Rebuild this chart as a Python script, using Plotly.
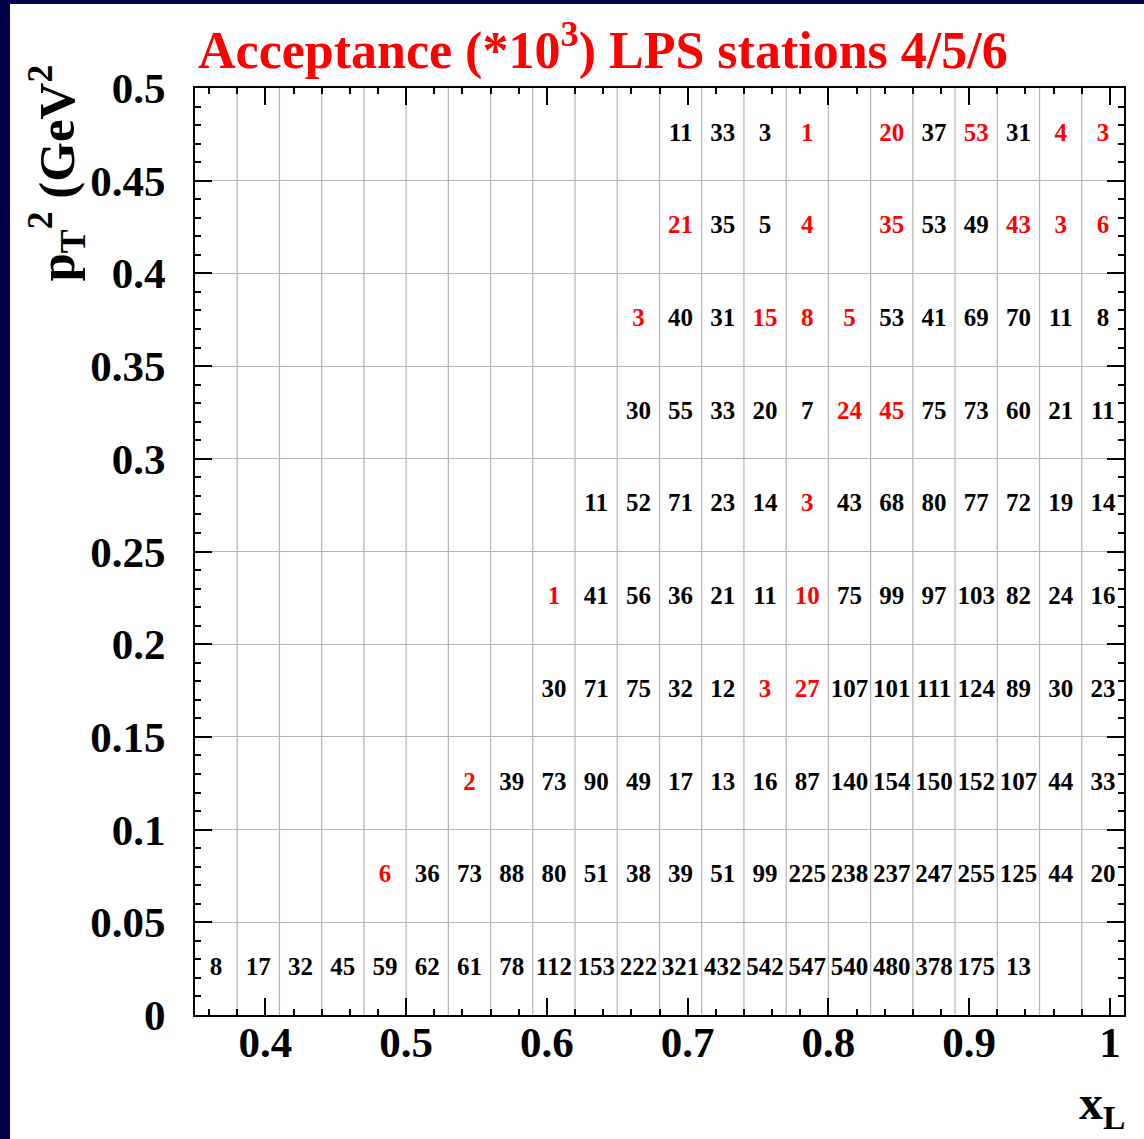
import plotly.graph_objects as go

# Bin centres of the acceptance map
xl_centers = [0.365, 0.395, 0.425, 0.455, 0.485, 0.515, 0.545, 0.575, 0.605, 0.635, 0.665,
              0.695, 0.725, 0.755, 0.785, 0.815, 0.845, 0.875, 0.905, 0.935, 0.965, 0.995]
pt2_centers = [0.025, 0.075, 0.125, 0.175, 0.225, 0.275, 0.325, 0.375, 0.425, 0.475]
xl_bin_width = 0.03

N = None
# Acceptance (x 10^3), one row per pT^2 bin (bottom to top), one entry per xL bin
acceptance = [
    [8, 17, 32, 45, 59, 62, 61, 78, 112, 153, 222, 321, 432, 542, 547, 540, 480, 378, 175, 13, N, N],
    [N, N, N, N, 6, 36, 73, 88, 80, 51, 38, 39, 51, 99, 225, 238, 237, 247, 255, 125, 44, 20],
    [N, N, N, N, N, N, 2, 39, 73, 90, 49, 17, 13, 16, 87, 140, 154, 150, 152, 107, 44, 33],
    [N, N, N, N, N, N, N, N, 30, 71, 75, 32, 12, 3, 27, 107, 101, 111, 124, 89, 30, 23],
    [N, N, N, N, N, N, N, N, 1, 41, 56, 36, 21, 11, 10, 75, 99, 97, 103, 82, 24, 16],
    [N, N, N, N, N, N, N, N, N, 11, 52, 71, 23, 14, 3, 43, 68, 80, 77, 72, 19, 14],
    [N, N, N, N, N, N, N, N, N, N, 30, 55, 33, 20, 7, 24, 45, 75, 73, 60, 21, 11],
    [N, N, N, N, N, N, N, N, N, N, 3, 40, 31, 15, 8, 5, 53, 41, 69, 70, 11, 8],
    [N, N, N, N, N, N, N, N, N, N, N, 21, 35, 5, 4, N, 35, 53, 49, 43, 3, 6],
    [N, N, N, N, N, N, N, N, N, N, N, 11, 33, 3, 1, N, 20, 37, 53, 31, 4, 3],
]

# xL-bin indices of the cells flagged in red, per pT^2 row
flagged = [
    [],
    [4],
    [6],
    [13, 14],
    [8, 14],
    [14],
    [15, 16],
    [10, 13, 14, 15],
    [11, 14, 16, 19, 20, 21],
    [14, 16, 18, 20, 21],
]

xs, ys, labels, colors = [], [], [], []
for r, row in enumerate(acceptance):
    for c, v in enumerate(row):
        if v is None:
            continue
        xs.append(xl_centers[c])
        ys.append(pt2_centers[r])
        labels.append(str(v))
        colors.append("#ff0000" if c in flagged[r] else "#000000")

SERIF = "Liberation Serif"

fig = go.Figure(go.Scatter(
    x=xs, y=ys, mode="text", text=labels,
    textposition="middle center",
    textfont=dict(family=SERIF, size=25, color=colors, weight="bold"),
    hoverinfo="skip", showlegend=False,
))

# Vertical grid at the xL bin edges
edges = [c - xl_bin_width / 2 for c in xl_centers] + [xl_centers[-1] + xl_bin_width / 2]
shapes = []
for e in edges[1:-1]:
    shapes.append(dict(type="line", xref="x", yref="paper", x0=e, x1=e, y0=0, y1=1,
                       line=dict(color="#b4b4b4", width=1.2), layer="below"))

# Dark frame strips along the top and left edges of the canvas
W, H = 1144, 1139
L, R, T, B = 195, 20, 88, 124
pw, ph = W - L - R, H - T - B
def px_x(p):
    return (p - L) / pw
def px_y(p):
    return (H - B - p) / ph
shapes.append(dict(type="rect", xref="paper", yref="paper", x0=px_x(0), x1=px_x(W),
                   y0=px_y(4), y1=px_y(-2), fillcolor="#02024a", line=dict(width=0), layer="above"))
shapes.append(dict(type="rect", xref="paper", yref="paper", x0=px_x(-2), x1=px_x(10),
                   y0=px_y(H + 2), y1=px_y(-2), fillcolor="#02024a", line=dict(width=0), layer="above"))

axis_common = dict(
    showline=True, linecolor="black", linewidth=2, mirror="allticks",
    ticks="inside", tickcolor="black", tickwidth=1.5, ticklen=17,
    tickfont=dict(family=SERIF, size=43, color="black", weight="bold"),
    zeroline=False,
)

fig.update_layout(
    width=W, height=H,
    margin=dict(l=L, r=R, t=T, b=B),
    paper_bgcolor="white", plot_bgcolor="white",
    shapes=shapes,
    xaxis=dict(range=[edges[0], edges[-1]], tick0=0, dtick=0.1, showgrid=False,
               ticklabelstandoff=-12,
               minor=dict(dtick=0.02, tick0=0, ticks="inside", ticklen=6,
                          tickcolor="black", tickwidth=1.5, showgrid=False),
               **axis_common),
    yaxis=dict(range=[0, 0.5], tick0=0, dtick=0.05, showgrid=True,
               gridcolor="#b4b4b4", gridwidth=1.2, ticklabelstandoff=19,
               minor=dict(dtick=0.01, tick0=0, ticks="inside", ticklen=6,
                          tickcolor="black", tickwidth=1.5, showgrid=False),
               **axis_common),
    annotations=[
        dict(text="Acceptance (*10<sup>3</sup>) LPS stations 4/5/6",
             xref="paper", yref="paper", x=px_x(603), y=px_y(47),
             xanchor="center", yanchor="middle", showarrow=False,
             font=dict(family=SERIF, size=52, color="#ff0000", weight="bold")),
        dict(text="p<sub>T</sub><sup>2</sup> (GeV<sup>2</sup>",
             xref="paper", yref="paper", x=px_x(56), y=px_y(63),
             xanchor="center", yanchor="top", textangle=-90, showarrow=False,
             font=dict(family=SERIF, size=51, color="black", weight="bold")),
        dict(text="x<sub>L</sub>",
             xref="paper", yref="paper", x=px_x(1127), y=px_y(1106),
             xanchor="right", yanchor="middle", showarrow=False,
             font=dict(family=SERIF, size=48, color="black", weight="bold")),
    ],
)

fig.write_html("out.html")
